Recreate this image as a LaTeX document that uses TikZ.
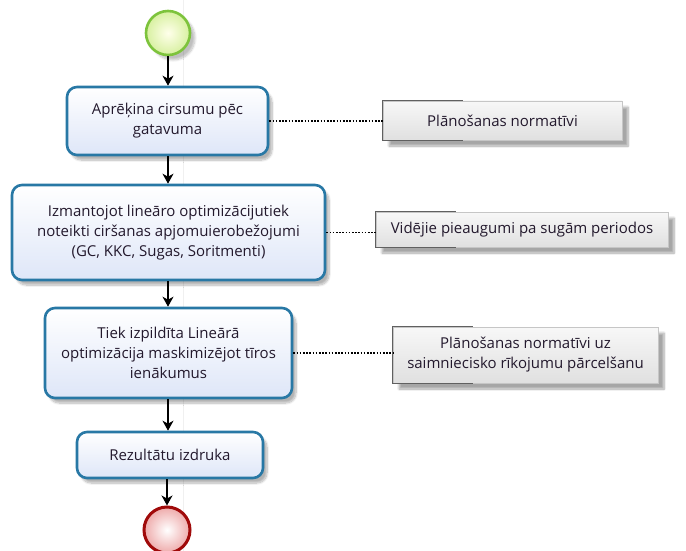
\documentclass[tikz,border=0pt]{standalone}
\usepackage{fontspec}
\setmainfont{Open Sans}
\usetikzlibrary{arrows.meta,shadows.blur}

\definecolor{taskborder}{RGB}{40,120,165}
\definecolor{taskfill}{RGB}{222,230,248}
\definecolor{startborder}{RGB}{125,195,60}
\definecolor{startfill}{RGB}{215,240,160}
\definecolor{endborder}{RGB}{160,10,10}
\definecolor{endfill}{RGB}{238,170,170}
\definecolor{notefill}{RGB}{224,224,224}
\definecolor{txt}{RGB}{35,25,45}

\tikzset{
  every node/.style={font=\fontsize{15}{20}\selectfont, text=txt},
  task/.style={draw=taskborder, line width=2.6pt, rounded corners=10pt,
    top color=white, bottom color=taskfill, align=center, inner sep=0pt,
    blur shadow={shadow xshift=4pt, shadow yshift=-5pt, shadow blur steps=8, shadow opacity=30}},
  note/.style={draw=gray!45, line width=0.8pt, top color=gray!6, bottom color=notefill,
    align=center, inner sep=0pt,
    blur shadow={shadow xshift=6pt, shadow yshift=-6pt, shadow blur steps=8, shadow opacity=35}},
  bracket/.style={draw=gray!75!black, line width=0.9pt},
  startev/.style={circle, draw=startborder, line width=2.6pt, minimum size=44pt,
    inner color=white!80!yellow!40, outer color=startfill,
    blur shadow={shadow xshift=5pt, shadow yshift=-5pt, shadow blur steps=8, shadow opacity=25}},
  endev/.style={circle, draw=endborder, line width=3pt, minimum size=46pt,
    inner color=white, outer color=endfill},
  flow/.style={draw=black, line width=1.2pt, -{Stealth[length=10pt, width=11pt, inset=3pt]}},
  assoc/.style={draw=black, line width=1.8pt, dash pattern=on 1.6pt off 1.6pt}
}

\begin{document}
\begin{tikzpicture}[x=1pt, y=-1pt]
  \useasboundingbox (0,0) rectangle (686,551);

  % faint lane guides
  \draw[gray!12, line width=0.6pt] (183,0) -- (183,551);

  % events
  \node[startev] (start) at (168,33) {};
  \node[endev] (end) at (167,530) {};

  % tasks
  \node[task, minimum width=201pt, minimum height=68pt] (t1) at (167.5,121)
    {Aprēķina cirsumu pēc\\gatavuma};
  \node[task, minimum width=313pt, minimum height=95pt] (t2) at (168.5,232.5)
    {Izmantojot lineāro optimizācijutiek\\noteikti ciršanas apjomuierobežojumi\\(GC, KKC, Sugas, Soritmenti)};
  \node[task, minimum width=247pt, minimum height=90pt] (t3) at (168.5,353)
    {Tiek izpildīta Lineārā\\optimizācija maskimizējot tīros\\ienākumus};
  \node[task, minimum width=186pt, minimum height=46pt] (t4) at (170,455)
    {Rezultātu izdruka};

  % annotations
  \node[note, minimum width=239pt, minimum height=39pt] (n1) at (502.5,120.5)
    {Plānošanas normatīvi};
  \node[note, minimum width=292pt, minimum height=35pt] (n2) at (522,229.5)
    {Vidējie pieaugumi pa sugām periodos};
  \node[note, minimum width=265pt, minimum height=56pt] (n3) at (525.5,355)
    {Plānošanas normatīvi uz\\saimniecisko rīkojumu pārcelšanu};

  % annotation brackets
  \foreach \n in {n1,n2,n3} {
    \draw[bracket] ([xshift=80pt]\n.north west) -- (\n.north west) -- (\n.south west) -- ([xshift=80pt]\n.south west);
  }

  % sequence flows
  \draw[flow] (start.south) -- (start.south |- t1.north);
  \draw[flow] (t1.south -| start) -- (t2.north -| start);
  \draw[flow] (t2.south -| start) -- (t3.north -| start);
  \draw[flow] (t3.south -| start) -- (t4.north -| start);
  \draw[flow] (t4.south -| end) -- (end.north);

  % associations
  \draw[assoc] (t1.east) -- (n1.west |- t1.east);
  \draw[assoc] (t2.east) -- (n2.west |- t2.east);
  \draw[assoc] (t3.east) -- (n3.west |- t3.east);
\end{tikzpicture}
\end{document}
